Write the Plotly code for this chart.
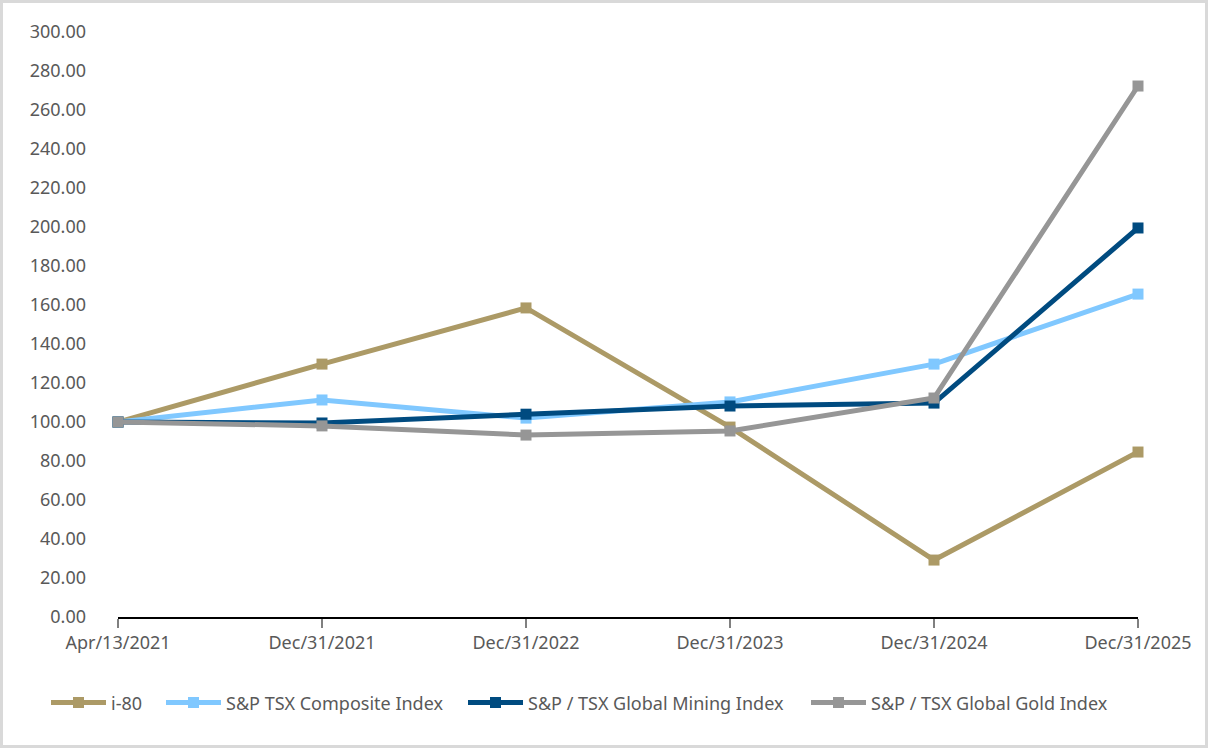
import plotly.graph_objects as go

categories = ["Apr/13/2021", "Dec/31/2021", "Dec/31/2022", "Dec/31/2023", "Dec/31/2024", "Dec/31/2025"]
i80 = [100.0, 129.7, 158.5, 97.4, 29.2, 84.6]
tsx_composite = [100.0, 111.3, 102.0, 110.3, 129.7, 165.6]
tsx_mining = [100.0, 99.5, 104.0, 108.2, 109.7, 199.5]
tsx_gold = [100.0, 98.0, 93.3, 95.4, 112.3, 272.3]

series = [
    ("i-80", i80, "#AC9A66"),
    ("S&P TSX Composite Index", tsx_composite, "#80C8FF"),
    ("S&P / TSX Global Mining Index", tsx_mining, "#004B80"),
    ("S&P / TSX Global Gold Index", tsx_gold, "#969696"),
]

W, H = 1208, 748
ML, MR, MT, MB = 118, 70, 32, 131
PW, PH = W - ML - MR, H - MT - MB

# legend symbol left edges (px) as in the reference
legend_px = [52, 167, 469, 812]
legend_names = ["legend", "legend2", "legend3", "legend4"]

fig = go.Figure()
for (name, vals, col), lg in zip(series, legend_names):
    fig.add_trace(go.Scatter(
        x=categories, y=vals, name=name, mode="lines+markers",
        line=dict(color=col, width=5),
        marker=dict(symbol="square", size=11, color=col),
        cliponaxis=False, legend=lg,
    ))

legend_common = dict(orientation="h", y=-0.115, yanchor="top", xanchor="left",
                     font=dict(size=18, color="#595959"), bgcolor="rgba(0,0,0,0)",
                     itemwidth=55)
layout_legends = {}
for lg, px in zip(legend_names, legend_px):
    layout_legends[lg] = dict(legend_common, x=(px - 6 - ML) / PW)

fig.update_layout(
    width=W, height=H,
    margin=dict(l=ML, r=MR, t=MT, b=MB),
    paper_bgcolor="white", plot_bgcolor="white",
    font=dict(family="Noto Sans", size=18, color="#595959"),
    showlegend=True,
    xaxis=dict(type="category", range=[0, 5], showgrid=False, showline=True,
               linecolor="#000000", linewidth=1.5, ticks="outside", ticklen=9,
               tickcolor="#808080", tickwidth=1.5, tickfont=dict(size=18, color="#595959")),
    yaxis=dict(range=[0, 300], dtick=20, tickformat=".2f", showgrid=False,
               showline=False, zeroline=False, ticks="", ticklabelstandoff=31,
               tickfont=dict(size=18, color="#595959")),
    shapes=[dict(type="rect", xref="paper", yref="paper",
                 x0=(1.5 - ML) / PW, x1=(W - 1.5 - ML) / PW,
                 y0=-(MB - 1.5) / PH, y1=1 + (MT - 1.5) / PH,
                 line=dict(color="#D9D9D9", width=3), layer="below")],
    **layout_legends,
)

fig.write_html("out.html")
